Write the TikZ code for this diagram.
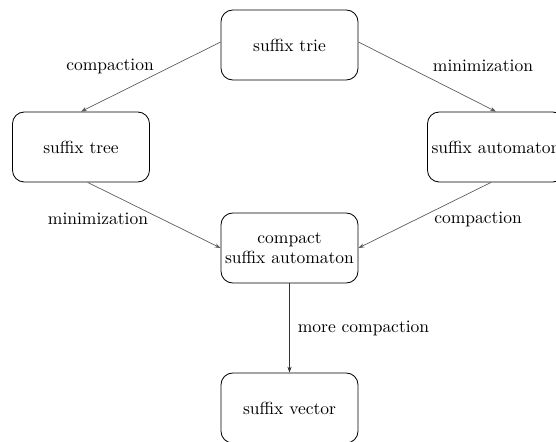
\documentclass[tikz,border=0pt]{standalone}
\usetikzlibrary{arrows.meta}
\begin{document}
\begin{tikzpicture}[x=0.6pt,y=-0.6pt,
  every node/.style={font=\fontsize{10.5pt}{12pt}\selectfont},
  box/.style={draw, rounded corners=7pt, minimum width=82.2pt, minimum height=42pt,
    align=center, inner xsep=0.5pt, line width=0.5pt},
  conn/.style={draw=black!65, line width=0.4pt, -{Stealth[length=3.5pt,width=2.5pt]}}]
  \clip (0,0) rectangle (556,442);
  \fill[white] (0,0) rectangle (556,442);
  \node[box] (trie) at (289.5,45) {suffix trie};
  \node[box] (tree) at (81,147) {suffix tree};
  \node[box] (sa) at (496,147) {suffix automaton};
  \node[box] (csa) at (289.5,248) {compact\\suffix automaton};
  \node[box] (vec) at (289.5,408) {suffix vector};
  \draw[conn] ([yshift=1.8pt]trie.west) -- (tree.north);
  \draw[conn] ([yshift=1.8pt]trie.east) -- (sa.north);
  \draw[conn] ([xshift=4pt]tree.south) -- (csa.west);
  \draw[conn] ([xshift=-3pt]sa.south) -- (csa.east);
  \draw[conn, draw=black!80, line width=0.55pt] (csa.south) -- (vec.north);
  \node (l1) at (110,66) {compaction};
  \node (l2) at (483,66) {minimization};
  \node (l3) at (98,219) {minimization};
  \node (l4) at (478,219) {compaction};
  \node[anchor=west] (l5) at (292,328) {more compaction};
\end{tikzpicture}
\end{document}
